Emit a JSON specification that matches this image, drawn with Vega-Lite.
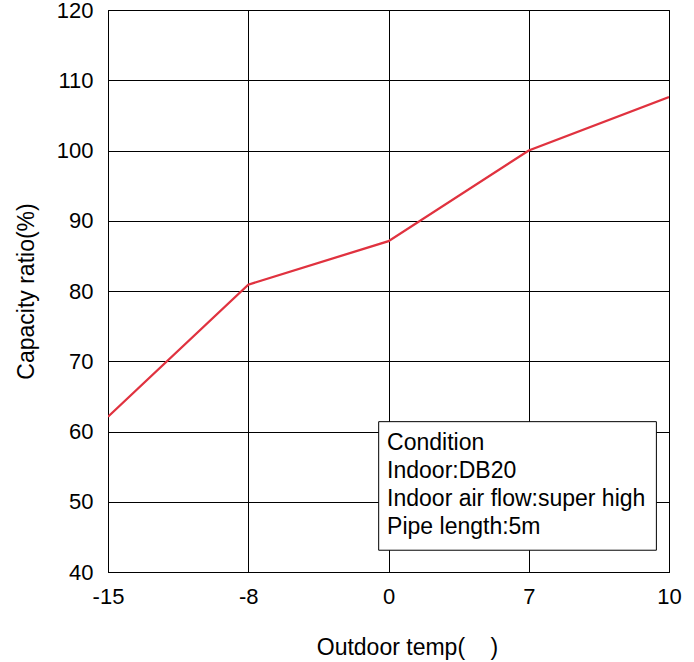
{
  "$schema": "https://vega.github.io/schema/vega-lite/v6.json",
  "width": 561,
  "height": 562,
  "autosize": "none",
  "padding": {"left": 108, "top": 10, "right": 25, "bottom": 90},
  "background": "white",
  "config": {
    "font": "Liberation Sans",
    "view": {"stroke": "#000", "strokeWidth": 1},
    "axis": {
      "grid": true,
      "gridColor": "#000",
      "gridOpacity": 1,
      "gridWidth": 1,
      "domainColor": "#000",
      "ticks": false,
      "tickSize": 0,
      "labelFlush": false,
      "labelOverlap": false,
      "labelFont": "Liberation Sans",
      "labelFontSize": 22,
      "labelColor": "#000",
      "titleFont": "Liberation Sans",
      "titleFontSize": 23,
      "titleFontWeight": "normal",
      "titleColor": "#000"
    }
  },
  "datasets": {
    "curve": [
      {"pos": 0, "temp": -15, "ratio": 62.1},
      {"pos": 1, "temp": -8, "ratio": 80.9},
      {"pos": 2, "temp": 0, "ratio": 87.1},
      {"pos": 3, "temp": 7, "ratio": 100},
      {"pos": 4, "temp": 10, "ratio": 107.6}
    ],
    "box": [
      {"x1": 1.93, "x2": 3.91, "y1": 61.4, "y2": 43.1}
    ],
    "notes": [
      {"x": 1.99, "y": 57.37, "text": "Condition"},
      {"x": 1.99, "y": 53.38, "text": "Indoor:DB20"},
      {"x": 1.99, "y": 49.4, "text": "Indoor air flow:super high"},
      {"x": 1.99, "y": 45.4, "text": "Pipe length:5m"}
    ]
  },
  "layer": [
    {
      "data": {"name": "curve"},
      "mark": {"type": "line", "color": "#e0323f", "strokeWidth": 2.3, "clip": true},
      "encoding": {
        "x": {
          "field": "pos",
          "type": "quantitative",
          "scale": {"domain": [0, 4], "nice": false, "zero": false},
          "axis": {
            "values": [0, 1, 2, 3, 4],
            "labelExpr": "['-15','-8','0','7','10'][datum.value]",
            "labelPadding": 14,
            "title": "Outdoor temp(\u00a0\u00a0\u00a0\u00a0)",
            "titleX": 299,
            "titleY": 82,
            "titleAlign": "center",
            "titleBaseline": "alphabetic"
          }
        },
        "y": {
          "field": "ratio",
          "type": "quantitative",
          "scale": {"domain": [40, 120], "nice": false, "zero": false},
          "axis": {
            "values": [40, 50, 60, 70, 80, 90, 100, 110, 120],
            "labelPadding": 15,
            "title": "Capacity ratio(%)",
            "titleAngle": -90,
            "titleX": -82,
            "titleY": 281,
            "titleAlign": "center",
            "titleBaseline": "middle"
          }
        }
      }
    },
    {
      "data": {"name": "box"},
      "mark": {"type": "rect", "fill": "white", "stroke": "#000", "strokeWidth": 1},
      "encoding": {
        "x": {"field": "x1", "type": "quantitative"},
        "x2": {"field": "x2"},
        "y": {"field": "y1", "type": "quantitative"},
        "y2": {"field": "y2"}
      }
    },
    {
      "data": {"name": "notes"},
      "mark": {"type": "text", "align": "left", "baseline": "alphabetic", "fontSize": 23, "font": "Liberation Sans", "color": "#000"},
      "encoding": {
        "x": {"field": "x", "type": "quantitative"},
        "y": {"field": "y", "type": "quantitative"},
        "text": {"field": "text"}
      }
    }
  ]
}
